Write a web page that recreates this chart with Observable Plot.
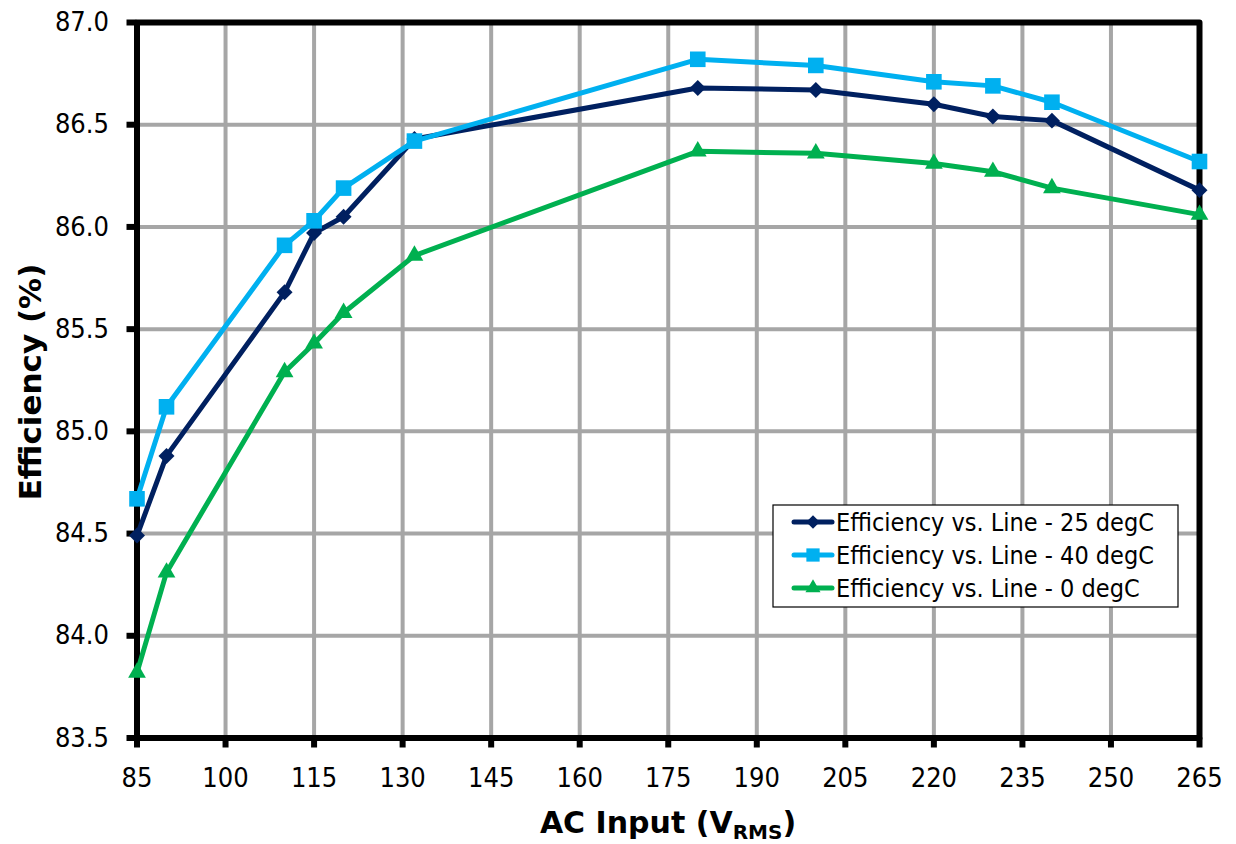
<!DOCTYPE html>
<html>
<head>
<meta charset="utf-8">
<script src="https://cdn.jsdelivr.net/npm/d3@7"></script>
<script src="https://cdn.jsdelivr.net/npm/@observablehq/plot@0.6"></script>
<style>
  html, body { margin: 0; padding: 0; background: #ffffff; }
  #chart svg { display: block; }
</style>
</head>
<body>
<div id="chart"></div>
<script>
// ---- Data ----
const voltage = [85, 90, 110, 115, 120, 132, 180, 200, 220, 230, 240, 265];
const eff25 = [84.49, 84.88, 85.68, 85.97, 86.05, 86.43, 86.68, 86.67, 86.60, 86.54, 86.52, 86.18];
const eff40 = [84.67, 85.12, 85.91, 86.03, 86.19, 86.42, 86.82, 86.79, 86.71, 86.69, 86.61, 86.32];
const eff0  = [83.82, 84.31, 85.29, 85.43, 85.58, 85.86, 86.37, 86.36, 86.31, 86.27, 86.19, 86.06];

const seriesNames = ["Efficiency vs. Line - 25 degC", "Efficiency vs. Line - 40 degC", "Efficiency vs. Line - 0 degC"];
const seriesValues = [eff25, eff40, eff0];
const seriesColors = ["#002060", "#00B0F0", "#00B050"];
const seriesSymbols = ["diamond2", "square", "triangle"];
const seriesR = [7.2, 8.8, 6.6];

const xTicks = [85, 100, 115, 130, 145, 160, 175, 190, 205, 220, 235, 250, 265];
const yTicks = [83.5, 84.0, 84.5, 85.0, 85.5, 86.0, 86.5, 87.0];

const xTitleMain = "AC Input (V";
const xTitleSub = "RMS";
const xTitleEnd = ")";
const yTitle = "Efficiency (%)";

// ---- Build table ----
const rows = [];
seriesNames.forEach((name, i) => {
  voltage.forEach((v, j) => rows.push({series: name, v, e: seriesValues[i][j]}));
});

const FONT = "'DejaVu Sans Condensed', 'DejaVu Sans', sans-serif";
const W = 1236, H = 844;

const lineMarks = seriesNames.map((name, i) =>
  Plot.line(rows.filter(d => d.series === name), {
    x: "v", y: "e", stroke: seriesColors[i], strokeWidth: 5,
    strokeLinejoin: "round", strokeLinecap: "round"
  })
);
const dotMarks = seriesNames.map((name, i) =>
  Plot.dot(rows.filter(d => d.series === name), {
    x: "v", y: "e", symbol: seriesSymbols[i], r: seriesR[i],
    fill: seriesColors[i], stroke: "none"
  })
);
const seriesMarks = [];
seriesNames.forEach((_, i) => { seriesMarks.push(lineMarks[i], dotMarks[i]); });

const chart = Plot.plot({
  width: W,
  height: H,
  marginLeft: 136.5,
  marginRight: 37,
  marginTop: 22,
  marginBottom: 106.5,
  x: {domain: [85, 265]},
  y: {domain: [83.5, 87]},
  style: {fontFamily: FONT, background: "#ffffff", color: "#000000"},
  marks: [
    Plot.gridX(xTicks, {stroke: "#a6a6a6", strokeOpacity: 1, strokeWidth: 4}),
    Plot.gridY(yTicks, {stroke: "#a6a6a6", strokeOpacity: 1, strokeWidth: 4}),
    Plot.frame({stroke: "#000000", strokeWidth: 6, strokeLinejoin: "round"}),
    Plot.axisX(xTicks, {tickSize: 10, tickPadding: 20, strokeWidth: 6, fontSize: 27, label: null, tickFormat: d => String(d)}),
    Plot.axisY(yTicks, {tickSize: 10, tickPadding: 18, strokeWidth: 6, fontSize: 27, label: null, tickFormat: d => d.toFixed(1)}),
    ...seriesMarks
  ]
});

document.getElementById("chart").appendChild(chart);

// ---- Axis titles ----
const svg = d3.select(chart);
const TITLE_FONT = "'DejaVu Sans', sans-serif";

svg.append("text")
  .attr("transform", "translate(30,382) rotate(-90)")
  .attr("text-anchor", "middle")
  .attr("dominant-baseline", "central")
  .attr("font-family", TITLE_FONT)
  .attr("font-weight", "bold")
  .attr("font-size", 31)
  .attr("fill", "#000")
  .text(yTitle);

const xt = svg.append("text")
  .attr("x", 668)
  .attr("y", 833)
  .attr("text-anchor", "middle")
  .attr("font-family", TITLE_FONT)
  .attr("font-weight", "bold")
  .attr("font-size", 30)
  .attr("fill", "#000");
xt.append("tspan").text(xTitleMain);
xt.append("tspan").attr("font-size", 20).attr("dy", 6).text(xTitleSub);
xt.append("tspan").attr("dy", -6).text(xTitleEnd);

// ---- Legend (inside plot area) ----
const symbolMap = {diamond2: d3.symbolDiamond2, square: d3.symbolSquare, triangle: d3.symbolTriangle};
const lg = svg.append("g");
lg.append("rect")
  .attr("x", 773).attr("y", 505).attr("width", 405).attr("height", 102)
  .attr("fill", "#ffffff").attr("stroke", "#000000").attr("stroke-width", 1.2);
const rowY = [522, 555, 588];
seriesNames.forEach((name, i) => {
  const y = rowY[i];
  lg.append("line")
    .attr("x1", 794).attr("x2", 832).attr("y1", y).attr("y2", y)
    .attr("stroke", seriesColors[i]).attr("stroke-width", 5).attr("stroke-linecap", "round");
  const r = seriesR[i] * 0.85;
  lg.append("path")
    .attr("transform", `translate(813,${y})`)
    .attr("d", d3.symbol(symbolMap[seriesSymbols[i]], Math.PI * r * r)())
    .attr("fill", seriesColors[i]);
  lg.append("text")
    .attr("x", 836).attr("y", y)
    .attr("text-anchor", "start")
    .attr("dominant-baseline", "central")
    .attr("font-family", FONT)
    .attr("font-size", 25)
    .attr("fill", "#000")
    .text(name);
});
</script>
</body>
</html>
